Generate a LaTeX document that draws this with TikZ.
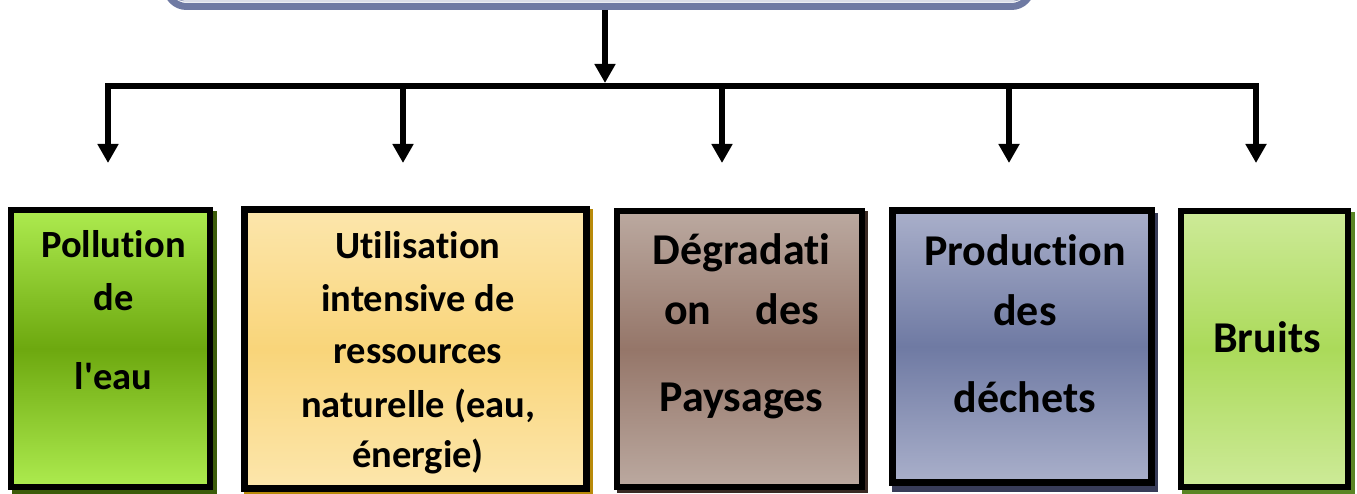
\documentclass[tikz,border=0pt]{standalone}
\usepackage{fontspec}
\newfontfamily\lbl{Carlito}[Ligatures={TeXOff,NoCommon}]
\usetikzlibrary{arrows.meta,backgrounds}
\definecolor{gA}{HTML}{ADEB4F}\definecolor{gB}{HTML}{6DA80F}\definecolor{gS}{HTML}{3C5C0A}
\definecolor{yA}{HTML}{FCE6AC}\definecolor{yB}{HTML}{F9D57A}\definecolor{yS}{HTML}{B88A0A}
\definecolor{bA}{HTML}{BBA9A0}\definecolor{bB}{HTML}{957669}\definecolor{bS}{HTML}{3A2A24}
\definecolor{nA}{HTML}{A9AFCA}\definecolor{nB}{HTML}{6F7AA3}\definecolor{nS}{HTML}{383C58}
\definecolor{lA}{HTML}{CDEA98}\definecolor{lB}{HTML}{ABDA5A}\definecolor{lS}{HTML}{5A8524}
\definecolor{topc}{HTML}{6F7AA3}
\tikzset{
  x=1pt,y=-1pt,
  catbox/.style={draw=black,line width=6pt,rectangle,inner sep=0pt},
  shade3/.style n args={2}{top color=#1,bottom color=#1,middle color=#2},
  small/.style={anchor=base,font=\lbl\bfseries\fontsize{38.5}{40}\selectfont,inner sep=0pt},
  big/.style={anchor=base,font=\lbl\bfseries\fontsize{44}{46}\selectfont,inner sep=0pt},
  link/.style={line width=6pt},
  drop/.style={line width=5.5pt,-{Triangle[width=20pt,length=19pt]}},
}
\begin{document}
\begin{tikzpicture}
\useasboundingbox (0,0) rectangle (1357,494);
% top box (cut by the top edge)
\node[draw=topc,line width=7pt,rounded corners=20pt,fill=white,minimum width=865pt,minimum height=90pt,inner sep=0pt] (top) at (599,-38.5) {};
\draw[topc!70,line width=0.8pt,rounded corners=12pt] ([shift={(9,9)}]top.north west) rectangle ([shift={(-9,-9)}]top.south east);
% category boxes
\node[catbox,shade3={gA}{gB},minimum width=199pt,minimum height=277pt] (b1) at (110.5,348.5) {};
\node[catbox,line width=7pt,shade3={yA}{yB},minimum width=342pt,minimum height=279pt] (b2) at (415.5,349) {};
\node[catbox,shade3={bA}{bB},minimum width=245pt,minimum height=276pt] (b3) at (739.5,349) {};
\node[catbox,line width=7pt,shade3={nA}{nB},minimum width=259pt,minimum height=271pt] (b4) at (1022,346.5) {};
\node[catbox,shade3={lA}{lB},minimum width=167pt,minimum height=276pt] (b5) at (1264,349) {};
\begin{scope}[on background layer]
\fill[gS] ([shift={(4,4)}]b1.north west) rectangle ([shift={(4,4)}]b1.south east);
\fill[yS] ([shift={(3,3)}]b2.north west) rectangle ([shift={(3,3)}]b2.south east);
\fill[bS] ([shift={(3,3)}]b3.north west) rectangle ([shift={(3,3)}]b3.south east);
\fill[nS] ([shift={(3,6)}]b4.north west) rectangle ([shift={(3,6)}]b4.south east);
\fill[lS] ([shift={(4,4)}]b5.north west) rectangle ([shift={(4,4)}]b5.south east);
\end{scope}
% texts
\node[small] (t1a) at (113.5,258) {Pollution};
\node[small] (t1b) at (113.5,310) {de};
\node[small] (t1c) at (113.5,389) {l'eau};
\node[small] (t2a) at (418,259) {Utilisation};
\node[small] (t2b) at (418,312) {intensive de};
\node[small] (t2c) at (418,363) {ressources};
\node[small] (t2d) at (418,417) {naturelle (eau,};
\node[small] (t2e) at (418,467) {énergie)};
\node[big] (t3a) at (741.5,265) {Dégradati};
\node[big] (t3b) at (741.5,324) {on\hspace{44pt}des};
\node[big] (t3c) at (741.5,411) {Paysages};
\node[big] (t4a) at (1025,266) {Production};
\node[big] (t4b) at (1025,326) {des};
\node[big] (t4c) at (1025,412) {déchets};
\node[big] (t5a) at (1267,352) {Bruits};
% connectors
\coordinate (hub) at (605,83);
\coordinate (j1) at (108,86.5);
\coordinate (j2) at (403,86.5);
\coordinate (j3) at (722,86.5);
\coordinate (j4) at (1009,86.5);
\coordinate (j5) at (1256,86.5);
\coordinate (e1) at (108,163);
\coordinate (e2) at (403,163);
\coordinate (e3) at (722,163);
\coordinate (e4) at (1009,163);
\coordinate (e5) at (1256,163);
\draw[drop] (top.south -| hub) -- (hub);
\draw[link] ([xshift=-2.75pt]j1) -- ([xshift=2.75pt]j5);
\draw[drop] ([yshift=-3pt]j1) -- (e1);
\draw[drop] (j2) -- (e2);
\draw[drop] (j3) -- (e3);
\draw[drop] (j4) -- (e4);
\draw[drop] ([yshift=-3pt]j5) -- (e5);
\end{tikzpicture}
\end{document}
